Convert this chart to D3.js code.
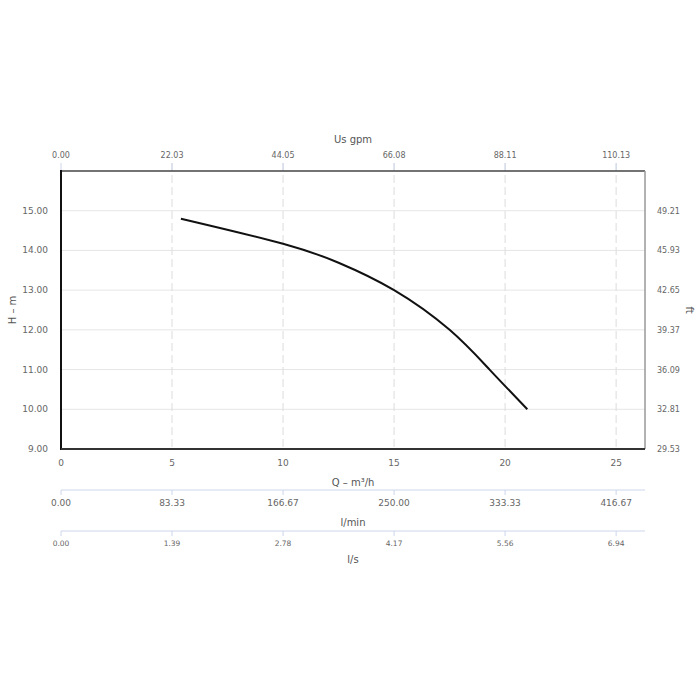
<!DOCTYPE html>
<head>
  <meta charset="utf-8">
  <script src="https://d3js.org/d3.v7.min.js"></script>
  <style>
    body { margin: 0; background: #fff; font-family: "DejaVu Sans", Arial, sans-serif; }
    .title { fill: #555; font-size: 10px; }
  </style>
</head>
<body>
  <div id="vis"></div>
  <script>
    // pump curve
    var flow = [5.4, 10, 12.5, 15, 17.5, 19.3, 21];
    var head = [14.8, 14.17, 13.69, 13.0, 12.0, 11.0, 10.0];

    var qTicks = [0, 5, 10, 15, 20, 25];
    var hTicks = [9, 10, 11, 12, 13, 14, 15];
    var gpmLabels = ["0.00", "22.03", "44.05", "66.08", "88.11", "110.13"];
    var lminLabels = ["0.00", "83.33", "166.67", "250.00", "333.33", "416.67"];
    var lsLabels = ["0.00", "1.39", "2.78", "4.17", "5.56", "6.94"];
    var ftLabels = ["29.53", "32.81", "36.09", "39.37", "42.65", "45.93", "49.21"];

    var width = 700, height = 700;
    var pLeft = 61, pRight = 645, pTop = 171, pBottom = 449;

    var svg = d3.select("#vis").append("svg")
      .attr("width", width)
      .attr("height", height);

    var x = d3.scaleLinear().domain([0, 26.3]).range([pLeft, pRight]);
    var y = d3.scaleLinear().domain([9, 16]).range([pBottom, pTop]);

    ////////// grid //////////
    svg.append("g")
      .selectAll("line")
      .data(hTicks.slice(1))
      .enter().append("line")
      .attr("x1", pLeft).attr("x2", pRight)
      .attr("y1", y).attr("y2", y)
      .attr("stroke", "#e6e6e6");

    svg.append("g")
      .selectAll("line")
      .data(qTicks.slice(1))
      .enter().append("line")
      .attr("x1", x).attr("x2", x)
      .attr("y1", pTop - 8).attr("y2", pBottom)
      .attr("stroke", "#dcdcdc")
      .attr("stroke-dasharray", "8,4");

    // top tick marks
    svg.append("g")
      .selectAll("line")
      .data(qTicks)
      .enter().append("line")
      .attr("x1", x).attr("x2", x)
      .attr("y1", pTop - 8).attr("y2", pTop)
      .attr("stroke", "#ccd6eb");

    ////////// frame //////////
    svg.append("line").attr("x1", pLeft).attr("x2", pRight).attr("y1", pTop).attr("y2", pTop)
      .attr("stroke", "#444").attr("stroke-width", 1.5);
    svg.append("line").attr("x1", pRight).attr("x2", pRight).attr("y1", pTop).attr("y2", pBottom)
      .attr("stroke", "#999").attr("stroke-width", 1.5);
    svg.append("line").attr("x1", pLeft).attr("x2", pLeft).attr("y1", pTop - 1).attr("y2", pBottom + 1)
      .attr("stroke", "#111").attr("stroke-width", 2);
    svg.append("line").attr("x1", pLeft).attr("x2", pRight).attr("y1", pBottom).attr("y2", pBottom)
      .attr("stroke", "#333").attr("stroke-width", 2);

    ////////// axis labels //////////
    function labels(vals, xf, yv, size, anchor) {
      svg.append("g")
        .attr("font-size", size)
        .attr("fill", "#666")
        .selectAll("text")
        .data(vals)
        .enter().append("text")
        .attr("x", xf)
        .attr("y", yv)
        .attr("text-anchor", anchor || "middle")
        .text(function (d) { return d; });
    }

    // left H
    labels(hTicks.map(function (d) { return d.toFixed(2); }), pLeft - 13,
      function (d, i) { return y(hTicks[i]) + 3; }, 9, "end");
    // right ft
    labels(ftLabels, pRight + 12, function (d, i) { return y(hTicks[i]) + 3; }, 8, "start");
    // bottom Q
    labels(qTicks, x, pBottom + 17, 9);
    // top gpm
    labels(gpmLabels, function (d, i) { return x(qTicks[i]); }, pTop - 13, 8);

    // l/min axis
    var lminY = 490;
    svg.append("line").attr("x1", pLeft).attr("x2", pRight).attr("y1", lminY).attr("y2", lminY)
      .attr("stroke", "#ccd6eb");
    svg.append("g").selectAll("line").data(qTicks).enter().append("line")
      .attr("x1", x).attr("x2", x).attr("y1", lminY).attr("y2", lminY + 5).attr("stroke", "#ccd6eb");
    labels(lminLabels, function (d, i) { return x(qTicks[i]); }, lminY + 16, 9);

    // l/s axis
    var lsY = 531;
    svg.append("line").attr("x1", pLeft).attr("x2", pRight).attr("y1", lsY).attr("y2", lsY)
      .attr("stroke", "#ccd6eb");
    svg.append("g").selectAll("line").data(qTicks).enter().append("line")
      .attr("x1", x).attr("x2", x).attr("y1", lsY).attr("y2", lsY + 5).attr("stroke", "#ccd6eb");
    labels(lsLabels, function (d, i) { return x(qTicks[i]); }, lsY + 15, 7.5);

    ////////// titles //////////
    var cx = (pLeft + pRight) / 2;
    svg.append("text").attr("class", "title").attr("x", cx).attr("y", 143)
      .attr("text-anchor", "middle").text("Us gpm");
    svg.append("text").attr("class", "title").attr("x", cx).attr("y", 486)
      .attr("text-anchor", "middle").text("Q – m³/h");
    svg.append("text").attr("class", "title").attr("x", cx).attr("y", 526)
      .attr("text-anchor", "middle").text("l/min");
    svg.append("text").attr("class", "title").attr("x", cx).attr("y", 563)
      .attr("text-anchor", "middle").text("l/s");
    svg.append("text").attr("class", "title")
      .attr("transform", "translate(16," + ((pTop + pBottom) / 2) + ") rotate(-90)")
      .attr("text-anchor", "middle").text("H – m");
    svg.append("text").attr("class", "title")
      .attr("transform", "translate(686," + ((pTop + pBottom) / 2) + ") rotate(90)")
      .attr("text-anchor", "middle").text("ft");

    ////////// curve //////////
    var pts = flow.map(function (q, i) { return [q, head[i]]; });
    var line = d3.line()
      .x(function (d) { return x(d[0]); })
      .y(function (d) { return y(d[1]); })
      .curve(d3.curveNatural);

    svg.append("path")
      .datum(pts)
      .attr("d", line)
      .attr("fill", "none")
      .attr("stroke", "#111")
      .attr("stroke-width", 2);
  </script>
</body>
